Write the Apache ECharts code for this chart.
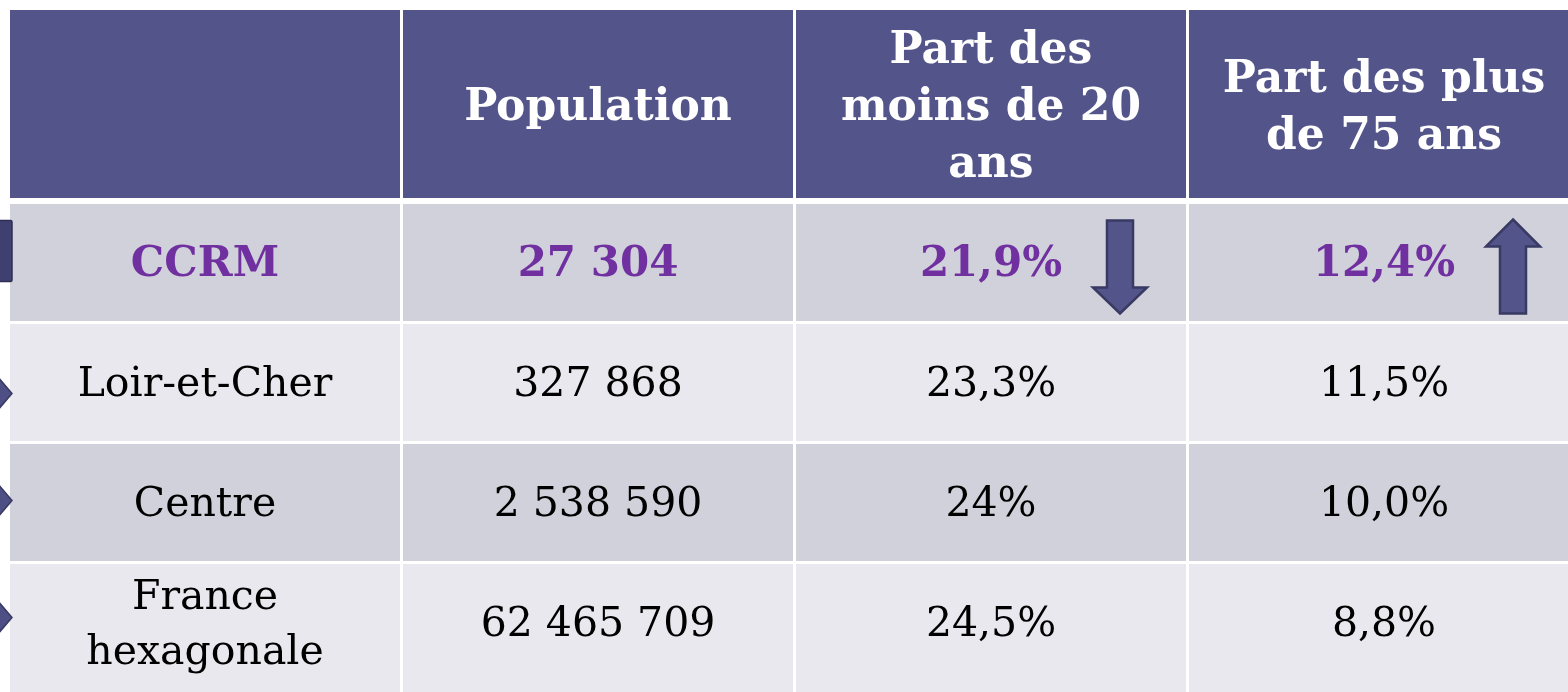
<!DOCTYPE html>
<html>
<head>
<meta charset="utf-8">
<script src="https://cdn.jsdelivr.net/npm/echarts@6/dist/echarts.min.js"></script>
<style>
  html, body { margin: 0; padding: 0; background: #ffffff; }
  #main { width: 1568px; height: 692px; }
</style>
</head>
<body>
<div id="main"></div>
<script>
// données du tableau
const headers = ['', 'Population', 'Part des\nmoins de 20\nans', 'Part des plus\nde 75 ans'];
const territories = ['CCRM', 'Loir-et-Cher', 'Centre', 'France\nhexagonale'];
const population = ['27 304', '327 868', '2 538 590', '62 465 709'];
const partMoins20 = ['21,9%', '23,3%', '24%', '24,5%'];
const partPlus75 = ['12,4%', '11,5%', '10,0%', '8,8%'];
const trendMoins20 = ['down', '', '', ''];
const trendPlus75 = ['up', '', '', ''];

const columns = [territories, population, partMoins20, partPlus75];
const trends = [null, null, trendMoins20, trendPlus75];

const FONT = '"DejaVu Serif", "Liberation Serif", serif';
const HEAD_BG = '#53558a';
const ROW_BG = ['#d0d1da', '#e8e8ee'];
const PURPLE = '#7030a0';
const ARROW_FILL = '#53548a';
const ARROW_STROKE = '#393a63';
const markerDy = [-12, 11, -2, -5];

var headerData = headers.map(function (h, i) { return [i, 0]; });
var bodyData = [];
columns.forEach(function (col, c) {
  col.forEach(function (v, r) { bodyData.push([c, r]); });
});

function cellBox(api, col, row) {
  var c = api.coord([col, row]);
  var s = api.size([1, 1]);
  return { x: c[0] - s[0] / 2 + 1.5, y: c[1] - s[1] / 2 + 1.5, w: s[0] - 3, h: s[1] - 3, cx: c[0], cy: c[1] };
}

function renderHeader(params, api) {
  var col = api.value(0);
  var b = cellBox(api, col, 0);
  return {
    type: 'group',
    children: [
      { type: 'rect', shape: { x: b.x, y: b.y, width: b.w, height: b.h }, style: { fill: HEAD_BG } },
      {
        type: 'text',
        style: {
          text: headers[col], x: b.cx, y: b.cy + 5, align: 'center', verticalAlign: 'middle',
          fill: '#ffffff', fontSize: 44, fontWeight: 'bold', fontFamily: FONT, lineHeight: 57
        }
      }
    ]
  };
}

function arrowShape(dir, cx, cy) {
  var sw = 13, hw = 27;
  if (dir === 'down') {
    return [[cx - sw, cy - 42], [cx + sw, cy - 42], [cx + sw, cy + 25], [cx + hw, cy + 25],
            [cx, cy + 51], [cx - hw, cy + 25], [cx - sw, cy + 25]];
  }
  return [[cx, cy - 43], [cx + hw, cy - 16], [cx + sw, cy - 16], [cx + sw, cy + 51],
          [cx - sw, cy + 51], [cx - sw, cy - 16], [cx - hw, cy - 16]];
}

function renderBody(params, api) {
  var col = api.value(0), row = api.value(1);
  var b = cellBox(api, col, row);
  var h = b.h;
  if (row === territories.length - 1) h += 14;
  var bold = row === 0;
  var children = [
    { type: 'rect', shape: { x: b.x, y: b.y, width: b.w, height: h }, style: { fill: ROW_BG[row % 2] } },
    {
      type: 'text',
      style: {
        text: columns[col][row], x: b.cx, y: b.cy + 3, align: 'center', verticalAlign: 'middle',
        fill: bold ? PURPLE : '#000000', fontSize: bold ? 42 : 41,
        fontWeight: bold ? 'bold' : 'normal', fontFamily: FONT, lineHeight: 55
      }
    }
  ];
  var t = trends[col] ? trends[col][row] : '';
  if (t) {
    children.push({
      type: 'polygon',
      shape: { points: arrowShape(t, b.cx + 129, b.cy) },
      style: { fill: ARROW_FILL, stroke: ARROW_STROKE, lineWidth: 2.5 }
    });
  }
  if (col === 0) {
    var my = b.cy + markerDy[row];
    if (row === 0) {
      children.push({
        type: 'rect', shape: { x: -4, y: b.cy - 42, width: 16, height: 61, r: 1.5 },
        style: { fill: '#3f4070', stroke: '#2e2f55', lineWidth: 1.5 }
      });
    } else {
      children.push({
        type: 'polygon', shape: { points: [[-12, my], [0, my - 14], [12, my], [0, my + 14]] },
        style: { fill: '#4e4f85', stroke: '#393a63', lineWidth: 1.5 }
      });
    }
  }
  return { type: 'group', children: children };
}

var chart = echarts.init(document.getElementById('main'));
var option = {
  animation: false,
  backgroundColor: '#ffffff',
  grid: [
    { left: 8.5, top: 8.5, width: 1572, height: 191, outerBoundsMode: 'none' },
    { left: 8.5, top: 202.5, width: 1572, height: 480, outerBoundsMode: 'none' }
  ],
  xAxis: [
    { type: 'category', gridIndex: 0, data: headers, show: false },
    { type: 'category', gridIndex: 1, data: headers, show: false }
  ],
  yAxis: [
    { type: 'category', gridIndex: 0, data: ['en-tête'], show: false, inverse: true },
    { type: 'category', gridIndex: 1, data: territories, show: false, inverse: true }
  ],
  series: [
    { type: 'custom', xAxisIndex: 0, yAxisIndex: 0, renderItem: renderHeader, data: headerData, clip: false },
    { type: 'custom', xAxisIndex: 1, yAxisIndex: 1, renderItem: renderBody, data: bodyData, clip: false }
  ]
};
chart.setOption(option);
</script>
</body>
</html>
